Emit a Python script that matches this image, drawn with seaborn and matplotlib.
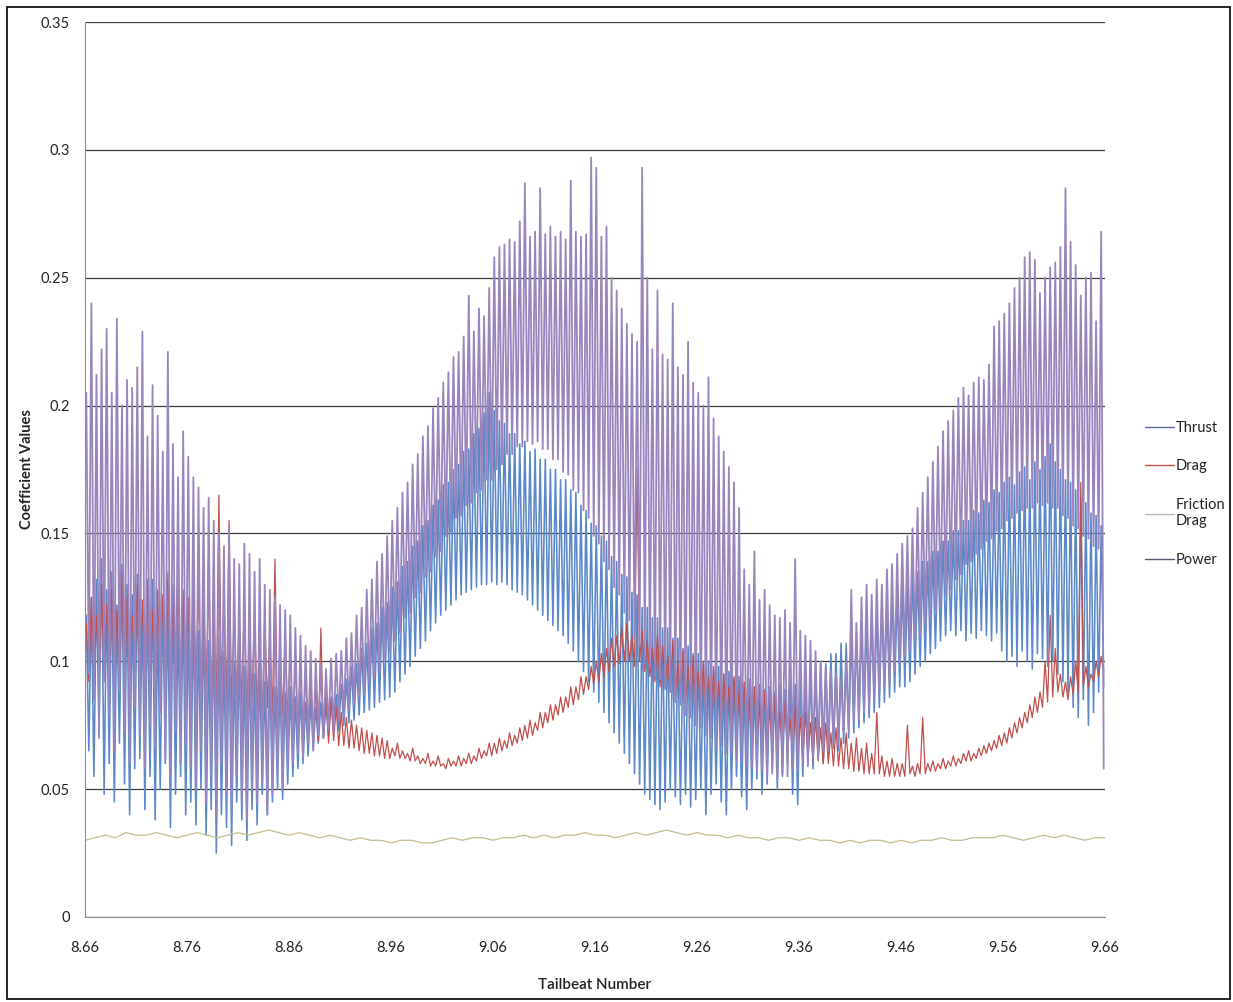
import numpy as np
import pandas as pd
import matplotlib
matplotlib.use("Agg")
import matplotlib.pyplot as plt
from matplotlib.patches import Rectangle
import seaborn as sns

# ---- data (one peak + one trough per stroke cycle) ----
power_peaks = [
    0.205, 0.240, 0.212, 0.222, 0.230, 0.205, 0.234, 0.200, 0.210, 0.207, 0.215, 0.229, 0.188, 0.208, 0.196, 0.182, 0.221, 0.185, 0.172, 0.190,
    0.180, 0.172, 0.168, 0.160, 0.164, 0.155, 0.150, 0.145, 0.152, 0.140, 0.138, 0.146, 0.142, 0.135, 0.140, 0.130, 0.128, 0.125, 0.122, 0.120,
    0.118, 0.113, 0.110, 0.106, 0.104, 0.101, 0.099, 0.097, 0.101, 0.103, 0.104, 0.109, 0.111, 0.118, 0.121, 0.128, 0.132, 0.139, 0.142, 0.149,
    0.155, 0.160, 0.166, 0.170, 0.177, 0.181, 0.188, 0.192, 0.199, 0.203, 0.209, 0.213, 0.219, 0.221, 0.227, 0.243, 0.229, 0.238, 0.235, 0.246,
    0.258, 0.262, 0.263, 0.265, 0.264, 0.272, 0.287, 0.266, 0.268, 0.285, 0.267, 0.270, 0.266, 0.268, 0.265, 0.288, 0.268, 0.266, 0.267, 0.297,
    0.293, 0.266, 0.270, 0.250, 0.245, 0.238, 0.232, 0.228, 0.225, 0.293, 0.250, 0.222, 0.245, 0.220, 0.218, 0.240, 0.215, 0.212, 0.225, 0.209,
    0.205, 0.200, 0.211, 0.195, 0.188, 0.182, 0.176, 0.170, 0.160, 0.136, 0.130, 0.143, 0.124, 0.128, 0.122, 0.118, 0.117, 0.120, 0.115, 0.140,
    0.112, 0.110, 0.108, 0.104, 0.100, 0.098, 0.096, 0.095, 0.093, 0.100, 0.128, 0.115, 0.125, 0.130, 0.126, 0.132, 0.130, 0.136, 0.138, 0.142,
    0.146, 0.149, 0.152, 0.160, 0.166, 0.172, 0.178, 0.184, 0.190, 0.194, 0.198, 0.203, 0.207, 0.204, 0.209, 0.211, 0.210, 0.216, 0.231, 0.233,
    0.236, 0.240, 0.246, 0.250, 0.258, 0.260, 0.257, 0.244, 0.250, 0.254, 0.256, 0.262, 0.285, 0.264, 0.255, 0.243, 0.250, 0.252, 0.233, 0.268,
]
power_troughs = [
    0.095, 0.085, 0.070, 0.092, 0.078, 0.065, 0.088, 0.072, 0.060, 0.082, 0.070, 0.058, 0.075, 0.066, 0.080, 0.062, 0.055, 0.072, 0.060, 0.068,
    0.058, 0.050, 0.065, 0.045, 0.055, 0.040, 0.060, 0.048, 0.042, 0.055, 0.045, 0.038, 0.050, 0.044, 0.052, 0.040, 0.048, 0.055, 0.050, 0.058,
    0.060, 0.064, 0.062, 0.068, 0.065, 0.071, 0.070, 0.073, 0.072, 0.077, 0.078, 0.081, 0.083, 0.086, 0.087, 0.091, 0.094, 0.096, 0.101, 0.103,
    0.108, 0.111, 0.117, 0.119, 0.125, 0.127, 0.133, 0.135, 0.141, 0.143, 0.149, 0.150, 0.156, 0.157, 0.161, 0.162, 0.166, 0.167, 0.171, 0.171,
    0.175, 0.177, 0.181, 0.181, 0.184, 0.184, 0.186, 0.185, 0.186, 0.183, 0.183, 0.179, 0.179, 0.174, 0.173, 0.167, 0.166, 0.159, 0.156, 0.149,
    0.146, 0.139, 0.136, 0.129, 0.126, 0.119, 0.116, 0.109, 0.106, 0.099, 0.098, 0.094, 0.093, 0.089, 0.088, 0.084, 0.083, 0.079, 0.078, 0.075,
    0.074, 0.071, 0.070, 0.067, 0.067, 0.064, 0.064, 0.061, 0.061, 0.059, 0.058, 0.057, 0.057, 0.055, 0.056, 0.054, 0.056, 0.055, 0.058, 0.057,
    0.060, 0.059, 0.062, 0.062, 0.065, 0.065, 0.068, 0.069, 0.072, 0.073, 0.076, 0.077, 0.080, 0.082, 0.085, 0.087, 0.090, 0.092, 0.096, 0.098,
    0.102, 0.104, 0.108, 0.110, 0.114, 0.116, 0.120, 0.122, 0.126, 0.128, 0.132, 0.134, 0.138, 0.139, 0.142, 0.144, 0.147, 0.148, 0.151, 0.152,
    0.155, 0.156, 0.158, 0.159, 0.160, 0.160, 0.162, 0.161, 0.162, 0.160, 0.160, 0.157, 0.156, 0.153, 0.152, 0.149, 0.148, 0.145, 0.144, 0.058,
]
thrust_peaks = [
    0.118, 0.125, 0.132, 0.140, 0.128, 0.135, 0.122, 0.138, 0.130, 0.126, 0.134, 0.120, 0.128, 0.132, 0.118, 0.126, 0.122, 0.130, 0.115, 0.124,
    0.118, 0.122, 0.112, 0.120, 0.108, 0.115, 0.110, 0.104, 0.112, 0.100, 0.106, 0.098, 0.104, 0.095, 0.100, 0.092, 0.098, 0.090, 0.094, 0.088,
    0.090, 0.086, 0.088, 0.084, 0.085, 0.082, 0.084, 0.083, 0.086, 0.087, 0.091, 0.093, 0.098, 0.099, 0.105, 0.107, 0.113, 0.115, 0.121, 0.123,
    0.129, 0.131, 0.137, 0.139, 0.145, 0.147, 0.153, 0.155, 0.161, 0.163, 0.169, 0.170, 0.175, 0.177, 0.182, 0.183, 0.189, 0.191, 0.197, 0.205,
    0.198, 0.194, 0.193, 0.189, 0.189, 0.185, 0.186, 0.182, 0.183, 0.179, 0.179, 0.175, 0.175, 0.171, 0.171, 0.167, 0.166, 0.161, 0.159, 0.154,
    0.153, 0.149, 0.147, 0.141, 0.139, 0.134, 0.133, 0.127, 0.126, 0.121, 0.121, 0.117, 0.117, 0.113, 0.113, 0.109, 0.109, 0.105, 0.106, 0.103,
    0.103, 0.099, 0.100, 0.097, 0.098, 0.095, 0.096, 0.093, 0.094, 0.091, 0.093, 0.090, 0.091, 0.089, 0.090, 0.088, 0.091, 0.089, 0.092, 0.091,
    0.094, 0.093, 0.096, 0.095, 0.099, 0.099, 0.103, 0.103, 0.107, 0.107, 0.111, 0.111, 0.115, 0.115, 0.119, 0.119, 0.123, 0.123, 0.127, 0.127,
    0.131, 0.131, 0.135, 0.135, 0.139, 0.139, 0.143, 0.143, 0.147, 0.147, 0.151, 0.151, 0.155, 0.155, 0.159, 0.158, 0.163, 0.162, 0.167, 0.166,
    0.170, 0.172, 0.169, 0.174, 0.176, 0.171, 0.178, 0.175, 0.180, 0.185, 0.178, 0.175, 0.171, 0.170, 0.167, 0.164, 0.162, 0.158, 0.157, 0.153,
]
thrust_troughs = [
    0.065, 0.055, 0.072, 0.048, 0.060, 0.045, 0.068, 0.052, 0.040, 0.058, 0.062, 0.042, 0.055, 0.038, 0.050, 0.060, 0.035, 0.048, 0.055, 0.040,
    0.045, 0.036, 0.050, 0.032, 0.042, 0.025, 0.040, 0.035, 0.028, 0.045, 0.038, 0.030, 0.042, 0.036, 0.048, 0.040, 0.045, 0.050, 0.046, 0.052,
    0.055, 0.058, 0.060, 0.063, 0.066, 0.068, 0.070, 0.071, 0.073, 0.073, 0.075, 0.076, 0.077, 0.079, 0.080, 0.081, 0.082, 0.084, 0.085, 0.086,
    0.088, 0.092, 0.095, 0.098, 0.102, 0.105, 0.108, 0.112, 0.115, 0.118, 0.120, 0.122, 0.124, 0.126, 0.127, 0.128, 0.129, 0.130, 0.130, 0.131,
    0.130, 0.131, 0.130, 0.128, 0.127, 0.126, 0.124, 0.122, 0.120, 0.118, 0.116, 0.114, 0.112, 0.110, 0.107, 0.104, 0.100, 0.096, 0.092, 0.088,
    0.084, 0.080, 0.076, 0.072, 0.068, 0.064, 0.060, 0.056, 0.052, 0.048, 0.046, 0.044, 0.042, 0.045, 0.050, 0.047, 0.044, 0.048, 0.043, 0.046,
    0.050, 0.040, 0.048, 0.052, 0.045, 0.040, 0.050, 0.055, 0.047, 0.042, 0.050, 0.054, 0.048, 0.052, 0.058, 0.050, 0.055, 0.060, 0.048, 0.044,
    0.055, 0.060, 0.058, 0.062, 0.060, 0.064, 0.066, 0.065, 0.068, 0.070, 0.072, 0.074, 0.076, 0.078, 0.080, 0.082, 0.084, 0.086, 0.088, 0.090,
    0.090, 0.092, 0.095, 0.098, 0.100, 0.103, 0.105, 0.108, 0.110, 0.112, 0.110, 0.112, 0.108, 0.111, 0.109, 0.112, 0.110, 0.108, 0.111, 0.104,
    0.100, 0.102, 0.098, 0.104, 0.100, 0.097, 0.103, 0.101, 0.098, 0.100, 0.095, 0.092, 0.088, 0.082, 0.078, 0.085, 0.075, 0.080, 0.088, 0.090,
]
drag_peaks = [
    0.115, 0.125, 0.118, 0.130, 0.122, 0.128, 0.120, 0.135, 0.125, 0.118, 0.130, 0.124, 0.132, 0.120, 0.128, 0.126, 0.135, 0.122, 0.130, 0.128,
    0.125, 0.132, 0.128, 0.124, 0.130, 0.122, 0.165, 0.126, 0.155, 0.120, 0.118, 0.125, 0.115, 0.120, 0.112, 0.118, 0.110, 0.140, 0.108, 0.112,
    0.105, 0.100, 0.098, 0.095, 0.092, 0.090, 0.113, 0.088, 0.085, 0.082, 0.080, 0.078, 0.077, 0.075, 0.074, 0.073, 0.072, 0.071, 0.070, 0.069,
    0.066, 0.068, 0.065, 0.064, 0.066, 0.063, 0.062, 0.064, 0.061, 0.063, 0.060, 0.062, 0.061, 0.063, 0.062, 0.064, 0.063, 0.066, 0.065, 0.068,
    0.068, 0.070, 0.069, 0.072, 0.071, 0.074, 0.075, 0.077, 0.076, 0.080, 0.080, 0.083, 0.083, 0.086, 0.086, 0.090, 0.090, 0.094, 0.094, 0.098,
    0.100, 0.103, 0.105, 0.109, 0.110, 0.113, 0.115, 0.110, 0.175, 0.112, 0.108, 0.105, 0.110, 0.106, 0.102, 0.108, 0.100, 0.104, 0.098, 0.102,
    0.096, 0.100, 0.094, 0.098, 0.092, 0.095, 0.090, 0.094, 0.088, 0.092, 0.086, 0.090, 0.084, 0.088, 0.082, 0.086, 0.080, 0.084, 0.078, 0.082,
    0.078, 0.080, 0.076, 0.078, 0.074, 0.076, 0.072, 0.074, 0.070, 0.072, 0.068, 0.070, 0.066, 0.068, 0.064, 0.080, 0.063, 0.061, 0.062, 0.060,
    0.060, 0.075, 0.059, 0.060, 0.078, 0.060, 0.061, 0.060, 0.062, 0.061, 0.063, 0.062, 0.064, 0.065, 0.064, 0.066, 0.067, 0.068, 0.069, 0.071,
    0.072, 0.074, 0.076, 0.078, 0.080, 0.083, 0.086, 0.088, 0.100, 0.118, 0.105, 0.095, 0.092, 0.094, 0.100, 0.170, 0.098, 0.095, 0.100, 0.102,
]
drag_troughs = [
    0.092, 0.098, 0.090, 0.095, 0.100, 0.092, 0.096, 0.088, 0.094, 0.098, 0.090, 0.095, 0.092, 0.088, 0.096, 0.090, 0.094, 0.086, 0.092, 0.090,
    0.088, 0.092, 0.085, 0.090, 0.086, 0.082, 0.088, 0.084, 0.080, 0.086, 0.082, 0.078, 0.084, 0.080, 0.076, 0.082, 0.078, 0.074, 0.078, 0.076,
    0.074, 0.072, 0.073, 0.070, 0.071, 0.069, 0.070, 0.068, 0.069, 0.067, 0.067, 0.066, 0.066, 0.065, 0.064, 0.064, 0.063, 0.063, 0.062, 0.062,
    0.063, 0.062, 0.062, 0.061, 0.061, 0.060, 0.060, 0.059, 0.059, 0.059, 0.058, 0.059, 0.059, 0.059, 0.060, 0.060, 0.061, 0.062, 0.063, 0.063,
    0.064, 0.065, 0.066, 0.067, 0.068, 0.069, 0.070, 0.071, 0.073, 0.074, 0.076, 0.077, 0.079, 0.080, 0.082, 0.083, 0.085, 0.087, 0.089, 0.091,
    0.092, 0.094, 0.096, 0.098, 0.099, 0.100, 0.100, 0.098, 0.100, 0.096, 0.094, 0.092, 0.090, 0.090, 0.088, 0.086, 0.085, 0.084, 0.082, 0.082,
    0.080, 0.079, 0.078, 0.077, 0.076, 0.075, 0.074, 0.073, 0.072, 0.071, 0.070, 0.069, 0.068, 0.067, 0.066, 0.065, 0.064, 0.064, 0.063, 0.063,
    0.062, 0.062, 0.061, 0.061, 0.060, 0.060, 0.059, 0.059, 0.058, 0.058, 0.057, 0.057, 0.056, 0.056, 0.056, 0.056, 0.055, 0.055, 0.055, 0.055,
    0.055, 0.056, 0.055, 0.056, 0.056, 0.057, 0.057, 0.058, 0.058, 0.059, 0.059, 0.060, 0.061, 0.061, 0.062, 0.063, 0.064, 0.065, 0.066, 0.067,
    0.068, 0.070, 0.072, 0.074, 0.076, 0.078, 0.080, 0.082, 0.084, 0.086, 0.088, 0.086, 0.085, 0.087, 0.088, 0.090, 0.090, 0.092, 0.094, 0.096,
]
friction = [
    0.030, 0.031, 0.032, 0.031, 0.033, 0.032, 0.032, 0.033, 0.032, 0.031,
    0.032, 0.033, 0.032, 0.031, 0.032, 0.033, 0.032, 0.033, 0.034, 0.033,
    0.032, 0.033, 0.032, 0.031, 0.032, 0.031, 0.030, 0.031, 0.030, 0.030,
    0.029, 0.030, 0.030, 0.029, 0.029, 0.030, 0.031, 0.030, 0.031, 0.031,
    0.030, 0.031, 0.031, 0.032, 0.031, 0.032, 0.031, 0.032, 0.032, 0.033,
    0.032, 0.032, 0.031, 0.032, 0.033, 0.032, 0.033, 0.034, 0.033, 0.032,
    0.033, 0.032, 0.032, 0.031, 0.032, 0.031, 0.031, 0.030, 0.031, 0.031,
    0.030, 0.031, 0.030, 0.030, 0.029, 0.030, 0.029, 0.030, 0.030, 0.029,
    0.030, 0.029, 0.030, 0.030, 0.031, 0.030, 0.030, 0.031, 0.031, 0.031,
    0.032, 0.031, 0.030, 0.031, 0.032, 0.031, 0.032, 0.031, 0.030, 0.031, 0.031,
]

series_names = ["Thrust", "Drag", "Friction Drag", "Power"]
legend_labels = ["Thrust", "Drag", "Friction\nDrag", "Power"]
series_colors = ["#5A88C8", "#C0504D", "#C4BC8C", "#9A84BE"]
x_ticks = [8.66, 8.76, 8.86, 8.96, 9.06, 9.16, 9.26, 9.36, 9.46, 9.56, 9.66]
y_ticks = [0, 0.05, 0.1, 0.15, 0.2, 0.25, 0.3, 0.35]


def zigzag(peaks, troughs):
	return np.column_stack([peaks, troughs]).ravel()


def buildFrame():
	n = len(power_peaks) * 2
	tb = 8.66 + (np.arange(n) + 0.5) * (1.0 / n)
	tb_f = 8.66 + np.arange(len(friction)) * 0.01
	parts = [
		pd.DataFrame({"tailbeat": tb, "value": zigzag(thrust_peaks, thrust_troughs), "series": "Thrust"}),
		pd.DataFrame({"tailbeat": tb, "value": zigzag(drag_peaks, drag_troughs), "series": "Drag"}),
		pd.DataFrame({"tailbeat": tb_f, "value": friction, "series": "Friction Drag"}),
		pd.DataFrame({"tailbeat": tb, "value": zigzag(power_peaks, power_troughs), "series": "Power"}),
	]
	return pd.concat(parts, ignore_index=True)


sns.set_style("white")
plt.rcParams["font.family"] = ["Lato", "DejaVu Sans"]

df = buildFrame()

fig = plt.figure(figsize=(12.33, 10.02), dpi=100)
ax = fig.add_axes([85 / 1233, 85 / 1002, 1020 / 1233, 895 / 1002])

sns.lineplot(data=df, x="tailbeat", y="value", hue="series", hue_order=series_names,
             palette=dict(zip(series_names, series_colors)), estimator=None, sort=False,
             linewidth=1.15, legend=False, ax=ax)
# drag and friction are thinner in the original, power a bit heavier
ax.lines[1].set_linewidth(0.9)
ax.lines[2].set_linewidth(0.9)
ax.lines[3].set_linewidth(1.3)

ax.set_xlim(8.66, 9.66)
ax.set_ylim(0, 0.35)
ax.set_xticks(x_ticks)
ax.set_xticklabels(["%.2f" % v for v in x_ticks])
ax.set_yticks(y_ticks)
ax.set_yticklabels(["%g" % v for v in y_ticks])
ax.set_axisbelow(True)
ax.yaxis.grid(True, color="#3a3a3a", linewidth=0.9)
ax.xaxis.grid(False)
ax.spines["top"].set_visible(False)
ax.spines["right"].set_visible(False)
ax.spines["left"].set_color("#8c8c8c")
ax.spines["bottom"].set_color("#8c8c8c")
ax.tick_params(axis="both", direction="out", length=5, color="#8c8c8c", labelsize=10.5, labelcolor="#222222")
ax.tick_params(axis="x", pad=12)
ax.tick_params(axis="y", pad=6)

ax.set_xlabel("Tailbeat Number", fontsize=11, weight="semibold", color="#222222")
ax.set_ylabel("Coefficient Values", fontsize=10.5, weight="bold", color="#222222")
ax.xaxis.set_label_coords(0.5, -0.068)
ax.yaxis.set_label_coords(-0.05, 0.5)

leg = fig.legend(handles=ax.lines[:4], labels=legend_labels, loc="center left",
                 bbox_to_anchor=(1132 / 1233, 0.507), frameon=False, fontsize=10.5,
                 handlelength=2.0, handletextpad=0.1, labelspacing=1.7)
for t in leg.get_texts():
	t.set_color("#222222")
for h, c in zip(leg.legend_handles, ["#5a6a90", "#C0504D", "#b8b8b0", "#5f5878"]):
	h.set_linewidth(1.0)
	h.set_color(c)

fig.patches.append(Rectangle((0.0057, 0.003), 0.992, 0.990, transform=fig.transFigure,
                             fill=False, edgecolor="black", linewidth=1.2))

fig.savefig("out.png", dpi=100)
